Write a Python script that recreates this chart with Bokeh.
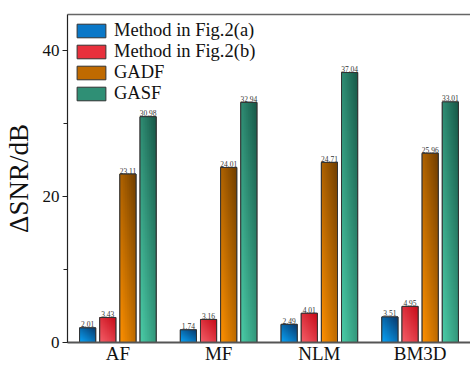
import numpy as np
from bokeh.plotting import figure
from bokeh.models import (Range1d, FixedTicker, SingleIntervalTicker, LinearAxis,
                          Legend, LegendItem, ColumnDataSource)
from bokeh.core.properties import value
from bokeh.embed import file_html
from bokeh.resources import INLINE

# ---- data ----
categories = ["AF", "MF", "NLM", "BM3D"]
series_names = ["Method in Fig.2(a)", "Method in Fig.2(b)", "GADF", "GASF"]
method_a = [2.01, 1.74, 2.49, 3.51]
method_b = [3.43, 3.16, 4.01, 4.95]
gadf = [23.11, 24.01, 24.71, 25.96]
gasf = [30.98, 32.94, 37.04, 33.01]
y_ticks = [0, 20, 40]

series_values = [method_a, method_b, gadf, gasf]

# ---- styles ----
FONT = "Liberation Serif"
offsets = [-0.3, -0.1, 0.1, 0.3]
bar_w = 0.16
light = [(10, 165, 250), (245, 95, 105), (255, 145, 0), (75, 205, 168)]
dark = [(8, 55, 105), (200, 12, 25), (112, 62, 0), (24, 88, 72)]
mid = ["#0a78c8", "#e8303c", "#c06a00", "#2f8f75"]

centers = np.arange(len(categories)) + 0.5

p = figure(width=470, height=366, output_backend="svg", toolbar_location=None,
           x_range=Range1d(0, 4), y_range=Range1d(0, 45),
           min_border_left=65, min_border_right=0, min_border_top=14,
           min_border_bottom=24)
p.outline_line_color = None
p.grid.visible = False
p.background_fill_color = "white"


def gradient(lc, dc, nx=24, ny=160):
    u = np.linspace(0, 1, nx)[None, :]
    v = np.linspace(0, 1, ny)[:, None]
    t = 0.45 * u + 0.55 * v
    lc = np.array(lc, dtype=float)
    dc = np.array(dc, dtype=float)
    rgb = lc[None, None, :] * (1 - t[..., None]) + dc[None, None, :] * t[..., None]
    img = np.empty((ny, nx), dtype=np.uint32)
    view = img.view(dtype=np.uint8).reshape((ny, nx, 4))
    view[..., :3] = np.clip(rgb, 0, 255).astype(np.uint8)
    view[..., 3] = 255
    return img


legend_items = []
for i, vals in enumerate(series_values):
    xs = centers + offsets[i]
    src = ColumnDataSource(dict(x=xs, top=vals,
                                lab=["%.2f" % v for v in vals]))
    r = p.vbar(x="x", top="top", width=bar_w, bottom=0, source=src,
               fill_color=mid[i], line_color="#333333", line_width=1)
    img = gradient(light[i], dark[i])
    p.image_rgba(image=[img] * len(vals), x=list(xs - bar_w / 2),
                 y=[0] * len(vals), dw=[bar_w] * len(vals), dh=list(vals))
    p.vbar(x="x", top="top", width=bar_w, bottom=0, source=src,
           fill_color=None, line_color="#333333", line_width=1)
    p.text(x="x", y="top", text="lab", source=src, text_font=value(FONT),
           text_font_size="7.5px", text_align="center", text_baseline="bottom",
           text_color="#333333", y_offset=-0.5)
    legend_items.append(LegendItem(label=series_names[i], renderers=[r]))

# y axis
ya = p.yaxis[0]
ya.ticker = SingleIntervalTicker(interval=20, num_minor_ticks=2)
ya.axis_label = "ΔSNR/dB"
ya.axis_label_text_font = FONT
ya.axis_label_text_font_size = "27px"
ya.axis_label_text_font_style = "normal"
ya.axis_label_text_color = "#111111"
ya.axis_label_standoff = 6
ya.major_label_text_font = FONT
ya.major_label_text_font_size = "17px"
ya.major_label_text_color = "#111111"
ya.major_label_standoff = 3
ya.major_tick_out = 5
ya.major_tick_in = 0
ya.minor_tick_out = 4
ya.minor_tick_in = 0
ya.axis_line_color = "#222222"
ya.axis_line_width = 1.2
ya.major_tick_line_color = "#222222"
ya.minor_tick_line_color = "#222222"

# x axis
xa = p.xaxis[0]
xa.ticker = FixedTicker(ticks=list(centers))
xa.major_label_overrides = {float(c): n for c, n in zip(centers, categories)}
xa.major_label_text_font = FONT
xa.major_label_text_font_size = "19px"
xa.major_label_text_color = "#111111"
xa.major_label_standoff = 0
xa.major_tick_out = 0
xa.major_tick_in = 0
xa.major_tick_line_color = None
xa.minor_tick_line_color = None
xa.axis_line_color = "#555555"
xa.axis_line_width = 2

# top border line
top = LinearAxis(ticker=FixedTicker(ticks=[]), major_tick_line_color=None,
                 minor_tick_line_color=None, major_tick_out=0, major_tick_in=0,
                 axis_line_color="#666666", axis_line_width=1.5)
p.add_layout(top, "above")

legend = Legend(items=legend_items, location="top_left")
legend.border_line_color = None
legend.background_fill_alpha = 0
legend.label_text_font = FONT
legend.label_text_font_size = "18.5px"
legend.label_text_color = "#111111"
legend.glyph_width = 36
legend.glyph_height = 17
legend.label_height = 17
legend.spacing = 0
legend.label_standoff = 5
legend.padding = 6
legend.margin = 6
p.add_layout(legend)

open("out.html", "w").write(file_html(p, INLINE))
